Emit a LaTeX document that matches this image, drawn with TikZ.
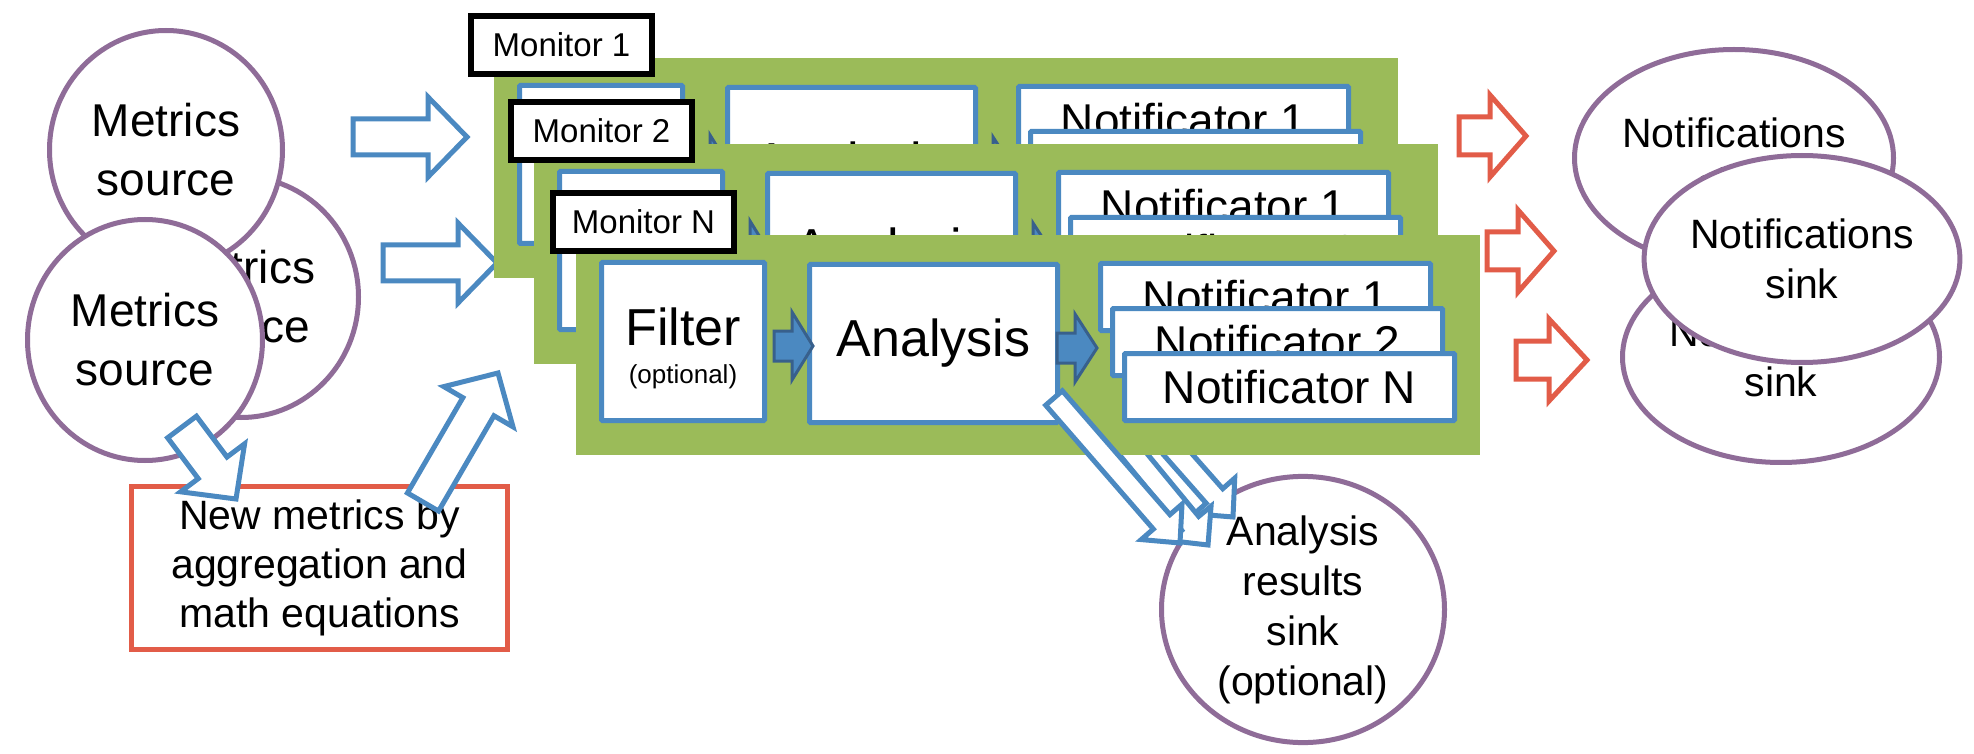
\documentclass[tikz,border=0pt]{standalone}
\usepackage{fontspec}
\setmainfont{Liberation Sans}
\usetikzlibrary{calc,shapes.geometric}
\definecolor{srcpurple}{RGB}{143,108,152}
\definecolor{boxblue}{RGB}{75,137,193}
\definecolor{darkblue}{RGB}{56,96,140}
\definecolor{panelgreen}{RGB}{155,187,89}
\definecolor{newred}{RGB}{226,92,72}
\newcommand{\fsize}[2]{\fontsize{#1}{#2}\selectfont}
\newcommand{\blockarrow}[6]{%
  \path ($(#3)!#6!(#2)$) coordinate (bh);
  \draw [#1] ($(#2)!#4!90:(#3)$) -- ($(bh)!#4!90:(#3)$) -- ($(bh)!#5!90:(#3)$) -- (#3)
    -- ($(bh)!#5!-90:(#3)$) -- ($(bh)!#4!-90:(#3)$) -- ($(#2)!#4!-90:(#3)$) -- cycle;}
\tikzset{
  source/.style={ellipse, draw=srcpurple, line width=5pt, fill=white, inner sep=0pt, align=center},
  monbox/.style={draw=black, line width=6pt, fill=white, minimum width=181pt, minimum height=58pt,
    inner sep=0pt, font=\fsize{33}{39}},
  stepbox/.style={draw=boxblue, line width=5pt, fill=white, inner sep=0pt, rounded corners=1pt},
  notibox/.style={stepbox, minimum width=330pt, minimum height=67pt, font=\fsize{46}{55}},
  openarrow/.style={draw=boxblue, line width=5pt, fill=white},
  redarrow/.style={draw=newred, line width=5pt, fill=white},
  flowarrow/.style={draw=darkblue, line width=3pt, fill=boxblue}
}
\begin{document}
\begin{tikzpicture}[x=1pt, y=-1pt]
  \path [use as bounding box, fill=white] (0,0) rectangle (1974,754);
  \node (src2) [source, minimum width=235pt, minimum height=241pt, font=\fsize{46}{59}] at (241,297) {Metrics\\source};
  \node (src1) [source, minimum width=233pt, minimum height=239pt, font=\fsize{46}{59}] at (166,150) {Metrics\\source};
  \node (src3) [source, minimum width=235pt, minimum height=241pt, font=\fsize{46}{59}] at (145,340) {Metrics\\source};
  \node (newm) [draw=newred, line width=5pt, fill=white, minimum width=376pt, minimum height=163pt,
    align=center, font=\fsize{41}{49}] at (319.5,568) {New metrics by\\aggregation and\\math equations};
  \coordinate (in1t) at (353,137);
  \coordinate (in1h) at (467,137);
  \coordinate (in2t) at (383,263);
  \coordinate (in2h) at (497,263);
  \coordinate (aggt) at (182,427);
  \coordinate (aggh) at (236,499);
  \coordinate (newt) at (423,502);
  \coordinate (newh) at (498,373);
  \blockarrow{openarrow}{in1t}{in1h}{18pt}{40pt}{39pt}
  \blockarrow{openarrow}{in2t}{in2h}{18pt}{40pt}{39pt}
  \blockarrow{openarrow}{aggt}{aggh}{18pt}{40pt}{39pt}
  \blockarrow{openarrow}{newt}{newh}{18pt}{40pt}{39pt}
  \node (asink) [source, minimum width=283pt, minimum height=260pt, font=\fsize{41}{50}] at (1303,609.5)
    {Analysis\\results\\sink\\(optional)};
  \coordinate (stip1) at (1233,517);
  \coordinate (stip2) at (1208,545);
  \coordinate (stip3) at (1180,543);
  \foreach \i/\px/\py/\lab in {1/494/58/1, 2/534/144/2, 3/576/235/N} {
    \begin{scope}[shift={(\px,\py)}]
      \fill [panelgreen] (0,0) rectangle (904,220);
      \node (filt\i) [stepbox, minimum width=163pt, minimum height=158pt] at (107,106.5) {};
      \node (ftxt\i) [anchor=base, font=\fsize{52}{62}] at (107,110) {Filter};
      \node (fopt\i) [anchor=base, font=\fsize{26}{31}] at (107,148) {(optional)};
      \node (anl\i) [stepbox, minimum width=248pt, minimum height=158pt, font=\fsize{52}{62}] at (357.5,108.5) {Analysis};
      \node (ntf\i) [notibox] at (689.5,62) {Notificator 1};
      \node (nts\i) [notibox] at (701.5,107) {Notificator 2};
      \node (ntn\i) [notibox] at (713.5,152) {Notificator N};
      \coordinate (fa\i) at (198,111);
      \coordinate (fb\i) at (237,111);
      \coordinate (ga\i) at (481,113);
      \coordinate (gb\i) at (521,113);
      \blockarrow{flowarrow}{fa\i}{fb\i}{15pt}{34pt}{21pt}
      \blockarrow{flowarrow}{ga\i}{gb\i}{15pt}{34pt}{22pt}
      \coordinate (stail\i) at (478,163);
      \blockarrow{openarrow}{stail\i}{stip\i}{11pt}{27pt}{28pt}
      \node (mon\i) [monbox] at (67.5,-13) {Monitor \lab};
    \end{scope}
  }
  \coordinate (out1t) at (1459,136);
  \coordinate (out1h) at (1526,136);
  \coordinate (out2t) at (1487,251);
  \coordinate (out2h) at (1554,251);
  \coordinate (out3t) at (1516,360);
  \coordinate (out3h) at (1587,360);
  \blockarrow{redarrow}{out1t}{out1h}{19pt}{41pt}{36pt}
  \blockarrow{redarrow}{out2t}{out2h}{19pt}{41pt}{36pt}
  \blockarrow{redarrow}{out3t}{out3h}{19pt}{41pt}{38pt}
  \node (nsink1) [source, minimum width=319pt, minimum height=217pt, font=\fsize{41}{50}] at (1734,158) {Notifications\\sink};
  \node (nsink3) [source, minimum width=317pt, minimum height=211pt, font=\fsize{41}{50}] at (1781,357) {Notifications\\sink};
  \node (nsink2) [source, minimum width=315pt, minimum height=207pt, font=\fsize{41}{50}] at (1802,259) {Notifications\\sink};
\end{tikzpicture}
\end{document}
